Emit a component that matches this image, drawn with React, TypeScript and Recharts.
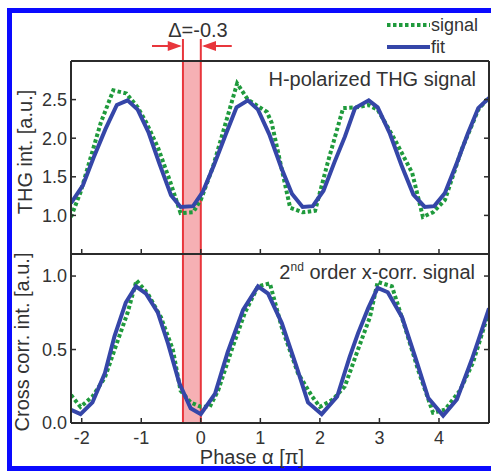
import React from 'react';
import { LineChart, Line, XAxis, YAxis, ReferenceArea, ReferenceLine, ReferenceDot, Label } from 'recharts';

// ---- data (phase α in units of π) ----
const phaseTicks = [-2, -1, 0, 1, 2, 3, 4];
const thgTicks = [1.0, 1.5, 2.0, 2.5];
const xcTicks = [0.0, 0.5, 1.0];

const thgSignalPhase = [-2.18, -2.02, -1.85, -1.68, -1.47, -1.25, -1.06, -0.92, -0.72, -0.52, -0.34, -0.13, 0.0, 0.2, 0.4, 0.61, 0.79, 1.11, 1.19, 1.5, 1.71, 1.92, 2.13, 2.39, 2.62, 2.81, 2.97, 3.26, 3.55, 3.73, 3.9, 4.1, 4.38, 4.66, 4.84];
const thgSignalValue = [0.98, 1.3, 1.75, 2.2, 2.62, 2.58, 2.4, 2.21, 1.88, 1.45, 1.03, 1.04, 1.2, 1.62, 2.15, 2.71, 2.5, 2.34, 2.2, 1.1, 1.04, 1.06, 1.68, 2.39, 2.4, 2.43, 2.37, 1.98, 1.55, 0.98, 1.04, 1.2, 1.85, 2.37, 2.53];

const thgFitPhase = [-2.18, -1.98, -1.8, -1.6, -1.41, -1.23, -1.06, -0.88, -0.7, -0.5, -0.34, -0.13, 0.03, 0.22, 0.42, 0.6, 0.79, 0.96, 1.15, 1.35, 1.53, 1.71, 1.88, 2.06, 2.25, 2.42, 2.59, 2.82, 2.97, 3.17, 3.37, 3.57, 3.76, 3.92, 4.1, 4.3, 4.48, 4.66, 4.84];
const thgFitValue = [1.16, 1.39, 1.75, 2.12, 2.43, 2.49, 2.37, 2.08, 1.68, 1.26, 1.11, 1.12, 1.3, 1.65, 2.05, 2.4, 2.49, 2.37, 2.05, 1.62, 1.28, 1.11, 1.12, 1.32, 1.7, 2.02, 2.39, 2.49, 2.4, 2.07, 1.65, 1.27, 1.11, 1.12, 1.29, 1.68, 2.05, 2.39, 2.52];

const xcSignalPhase = [-2.18, -2.02, -1.82, -1.61, -1.43, -1.23, -1.08, -0.89, -0.67, -0.47, -0.34, -0.17, 0.0, 0.15, 0.29, 0.52, 0.74, 0.96, 1.16, 1.36, 1.63, 1.87, 2.0, 2.22, 2.42, 2.64, 2.84, 2.97, 3.21, 3.43, 3.65, 3.9, 4.1, 4.35, 4.57, 4.84];
const xcSignalValue = [0.19, 0.11, 0.18, 0.31, 0.52, 0.75, 0.97, 0.88, 0.72, 0.5, 0.22, 0.14, 0.11, 0.11, 0.22, 0.5, 0.75, 0.93, 0.95, 0.65, 0.34, 0.18, 0.11, 0.16, 0.25, 0.5, 0.72, 0.96, 0.93, 0.65, 0.36, 0.07, 0.09, 0.22, 0.41, 0.76];

const xcFitPhase = [-2.18, -2.02, -1.82, -1.61, -1.45, -1.26, -1.09, -0.92, -0.72, -0.55, -0.36, -0.17, 0.0, 0.24, 0.45, 0.71, 0.96, 1.13, 1.36, 1.61, 1.8, 2.03, 2.29, 2.5, 2.64, 2.81, 2.97, 3.14, 3.38, 3.6, 3.82, 4.07, 4.3, 4.55, 4.66, 4.84];
const xcFitValue = [0.09, 0.06, 0.14, 0.34, 0.59, 0.82, 0.93, 0.88, 0.75, 0.54, 0.27, 0.1, 0.06, 0.2, 0.48, 0.77, 0.93, 0.88, 0.68, 0.38, 0.14, 0.06, 0.18, 0.45, 0.61, 0.78, 0.92, 0.89, 0.72, 0.45, 0.17, 0.05, 0.16, 0.43, 0.56, 0.78];

const phaseDomain: [number, number] = [-2.18, 4.84];
const thgDomain: [number, number] = [0.5, 3.0];
const xcDomain: [number, number] = [0.0, 1.15];
const deltaStart = -0.3;
const deltaEnd = 0;
const markTop = 3.285;
const arrowLevel = 3.194;

const zip = (xs: number[], ys: number[]) => xs.map((x, i) => ({ x, y: ys[i] }));
const thgSignal = zip(thgSignalPhase, thgSignalValue);
const thgFit = zip(thgFitPhase, thgFitValue);
const xcSignal = zip(xcSignalPhase, xcSignalValue);
const xcFit = zip(xcFitPhase, xcFitValue);

// ---- styles ----
const FONT = '"Liberation Sans", Arial, Helvetica, sans-serif';
const TXT = '#333333';
const AXIS = '#2b2b2b';
const BLUE = '#3546a8';
const GREEN = '#1f9a3c';
const RED = '#e8363c';
const PINK = '#f6b0b4';

const axisLine = { stroke: AXIS, strokeWidth: 2 };
const tickLine = { stroke: AXIS, strokeWidth: 1.5 };
const tickStyle = { fontSize: 18, fill: TXT, fontFamily: FONT };
const blank = () => '';

const yLabel = (text: string, bx: number, dy: number) => (props: any) => {
  const vb = props.viewBox || { x: 0, y: 0, width: 0, height: 0 };
  const x = vb.x + bx;
  const y = vb.y + vb.height / 2 + dy;
  return (
    <text x={x} y={y} transform={`rotate(-90 ${x} ${y})`} textAnchor="middle" fontSize={20} fill={TXT} fontFamily={FONT}>
      {text}
    </text>
  );
};

const xLabel = (props: any) => {
  const vb = props.viewBox || { x: 0, y: 0, width: 0, height: 0 };
  return (
    <text x={vb.x + 181} y={vb.y + 41} textAnchor="middle" fontSize={20} fill={TXT} fontFamily={FONT}>
      Phase α [π]
    </text>
  );
};

const arrowRight = (p: any) => (
  <path d={`M ${p.cx} ${p.cy} L ${p.cx - 14} ${p.cy - 5} L ${p.cx - 14} ${p.cy + 5} Z`} fill={RED} />
);
const arrowLeft = (p: any) => (
  <path d={`M ${p.cx} ${p.cy} L ${p.cx + 14} ${p.cy - 5} L ${p.cx + 14} ${p.cy + 5} Z`} fill={RED} />
);

const htmlText = (extra: React.CSSProperties): React.CSSProperties => ({
  position: 'absolute',
  fontFamily: FONT,
  color: TXT,
  whiteSpace: 'nowrap',
  ...extra,
});

const LegendSample = ({ dashed, color }: { dashed: boolean; color: string }) => (
  <svg width={44} height={18} style={{ display: 'inline-block', verticalAlign: 'top' }}>
    <line x1={0} x2={43} y1={9} y2={9} stroke={color} strokeWidth={4} strokeDasharray={dashed ? '3.5 2.5' : undefined} />
  </svg>
);

export default function App() {
  return (
    <div style={{ position: 'fixed', left: 0, top: 0, width: 491, height: 471, overflow: 'hidden', background: '#ffffff' }}>
      <div
        style={{
          position: 'absolute',
          left: 7,
          top: 8,
          width: 500,
          height: 463,
          border: '5px solid #0a0aff',
          boxSizing: 'border-box',
          background: '#ffffff',
          fontFamily: FONT,
        }}
      >
        {/* upper panel */}
        <div style={{ position: 'absolute', left: 0, top: 0 }}>
          <LineChart width={479} height={242} margin={{ top: 48, right: 2, bottom: 0, left: 0 }}>
            <XAxis xAxisId="b" type="number" dataKey="x" domain={phaseDomain} ticks={phaseTicks} allowDataOverflow height={1}
              tickSize={-5} tickFormatter={blank} axisLine={axisLine} tickLine={tickLine} />
            <XAxis xAxisId="t" type="number" dataKey="x" domain={phaseDomain} allowDataOverflow orientation="top" mirror
              tick={false} tickLine={false} axisLine={axisLine} />
            <YAxis yAxisId="l" type="number" domain={thgDomain} ticks={thgTicks} allowDataOverflow width={59}
              tickSize={-5} tickMargin={9} tick={tickStyle} tickFormatter={(v: number) => v.toFixed(1)}
              axisLine={axisLine} tickLine={tickLine}>
              <Label content={yLabel('THG int. [a.u.]', 19.5, -5.5)} />
            </YAxis>
            <YAxis yAxisId="r" type="number" orientation="right" mirror domain={thgDomain} ticks={thgTicks} allowDataOverflow
              tickSize={5} tickFormatter={blank} axisLine={axisLine} tickLine={tickLine} />

            <ReferenceArea xAxisId="b" yAxisId="l" x1={deltaStart} x2={deltaEnd} y1={thgDomain[0]} y2={thgDomain[1]}
              fill={PINK} fillOpacity={1} stroke="none" ifOverflow="visible" />
            <ReferenceLine xAxisId="b" yAxisId="l" segment={[{ x: deltaStart, y: thgDomain[0] }, { x: deltaStart, y: markTop }]}
              stroke={RED} strokeWidth={2} ifOverflow="visible" />
            <ReferenceLine xAxisId="b" yAxisId="l" segment={[{ x: deltaEnd, y: thgDomain[0] }, { x: deltaEnd, y: markTop }]}
              stroke={RED} strokeWidth={2} ifOverflow="visible" />
            <ReferenceLine xAxisId="b" yAxisId="l" segment={[{ x: -0.82, y: arrowLevel }, { x: -0.36, y: arrowLevel }]}
              stroke={RED} strokeWidth={2} ifOverflow="visible" />
            <ReferenceLine xAxisId="b" yAxisId="l" segment={[{ x: 0.06, y: arrowLevel }, { x: 0.52, y: arrowLevel }]}
              stroke={RED} strokeWidth={2} ifOverflow="visible" />
            <ReferenceDot xAxisId="b" yAxisId="l" x={-0.32} y={arrowLevel} r={5} shape={arrowRight} ifOverflow="visible" />
            <ReferenceDot xAxisId="b" yAxisId="l" x={0.02} y={arrowLevel} r={5} shape={arrowLeft} ifOverflow="visible" />

            <Line xAxisId="b" yAxisId="l" data={thgSignal} dataKey="y" name="signal" type="linear" stroke={GREEN}
              strokeWidth={4} strokeDasharray="3.5 2.5" dot={false} activeDot={false} isAnimationActive={false} />
            <Line xAxisId="b" yAxisId="l" data={thgFit} dataKey="y" name="fit" type="linear" stroke={BLUE}
              strokeWidth={4} dot={false} activeDot={false} isAnimationActive={false} />
          </LineChart>
        </div>

        {/* lower panel */}
        <div style={{ position: 'absolute', left: 0, top: 231 }}>
          <LineChart width={479} height={227} margin={{ top: 10, right: 2, bottom: 0, left: 0 }}>
            <XAxis xAxisId="b" type="number" dataKey="x" domain={phaseDomain} ticks={phaseTicks} allowDataOverflow height={48}
              tickSize={-5} tickMargin={13} tick={tickStyle} tickFormatter={(v: number) => String(v)}
              axisLine={axisLine} tickLine={tickLine}>
              <Label content={xLabel} />
            </XAxis>
            <XAxis xAxisId="t" type="number" dataKey="x" domain={phaseDomain} allowDataOverflow orientation="top" mirror
              tick={false} tickLine={false} axisLine={axisLine} />
            <YAxis yAxisId="l" type="number" domain={xcDomain} ticks={xcTicks} allowDataOverflow width={59}
              tickSize={-5} tickMargin={9} tick={tickStyle} tickFormatter={(v: number) => v.toFixed(1)}
              axisLine={axisLine} tickLine={tickLine}>
              <Label content={yLabel('Cross corr. int. [a.u.]', 17, 3.5)} />
            </YAxis>
            <YAxis yAxisId="r" type="number" orientation="right" mirror domain={xcDomain} ticks={xcTicks} allowDataOverflow
              tickSize={5} tickFormatter={blank} axisLine={axisLine} tickLine={tickLine} />

            <ReferenceArea xAxisId="b" yAxisId="l" x1={deltaStart} x2={deltaEnd} y1={xcDomain[0]} y2={xcDomain[1]}
              fill={PINK} fillOpacity={1} stroke="none" ifOverflow="visible" />
            <ReferenceLine xAxisId="b" yAxisId="l" x={deltaStart} stroke={RED} strokeWidth={2} ifOverflow="visible" />
            <ReferenceLine xAxisId="b" yAxisId="l" x={deltaEnd} stroke={RED} strokeWidth={2} ifOverflow="visible" />

            <Line xAxisId="b" yAxisId="l" data={xcSignal} dataKey="y" name="signal" type="linear" stroke={GREEN}
              strokeWidth={4} strokeDasharray="3.5 2.5" dot={false} activeDot={false} isAnimationActive={false} />
            <Line xAxisId="b" yAxisId="l" data={xcFit} dataKey="y" name="fit" type="linear" stroke={BLUE}
              strokeWidth={4} dot={false} activeDot={false} isAnimationActive={false} />
          </LineChart>
        </div>

        {/* annotations */}
        <div style={htmlText({ left: 136, top: 6.7, width: 100, textAlign: 'center', fontSize: 20, lineHeight: '20px' })}>Δ=-0.3</div>
        <div style={htmlText({ left: 164, top: 56.2, width: 300, textAlign: 'right', fontSize: 20, lineHeight: '20px' })}>
          H-polarized THG signal
        </div>
        <div style={htmlText({ left: 163, top: 248.7, width: 300, textAlign: 'right', fontSize: 20, lineHeight: '20px' })}>
          2<span style={{ fontSize: 12, position: 'relative', top: -8, lineHeight: 0 }}>nd</span> order x-corr. signal
        </div>

        {/* legend */}
        <div style={htmlText({ left: 375, top: 2.7, fontSize: 18, lineHeight: '18px' })}>
          <LegendSample dashed color={GREEN} />
          <span>signal</span>
        </div>
        <div style={htmlText({ left: 375, top: 25.2, fontSize: 18, lineHeight: '18px' })}>
          <LegendSample dashed={false} color={BLUE} />
          <span>fit</span>
        </div>
      </div>
    </div>
  );
}
